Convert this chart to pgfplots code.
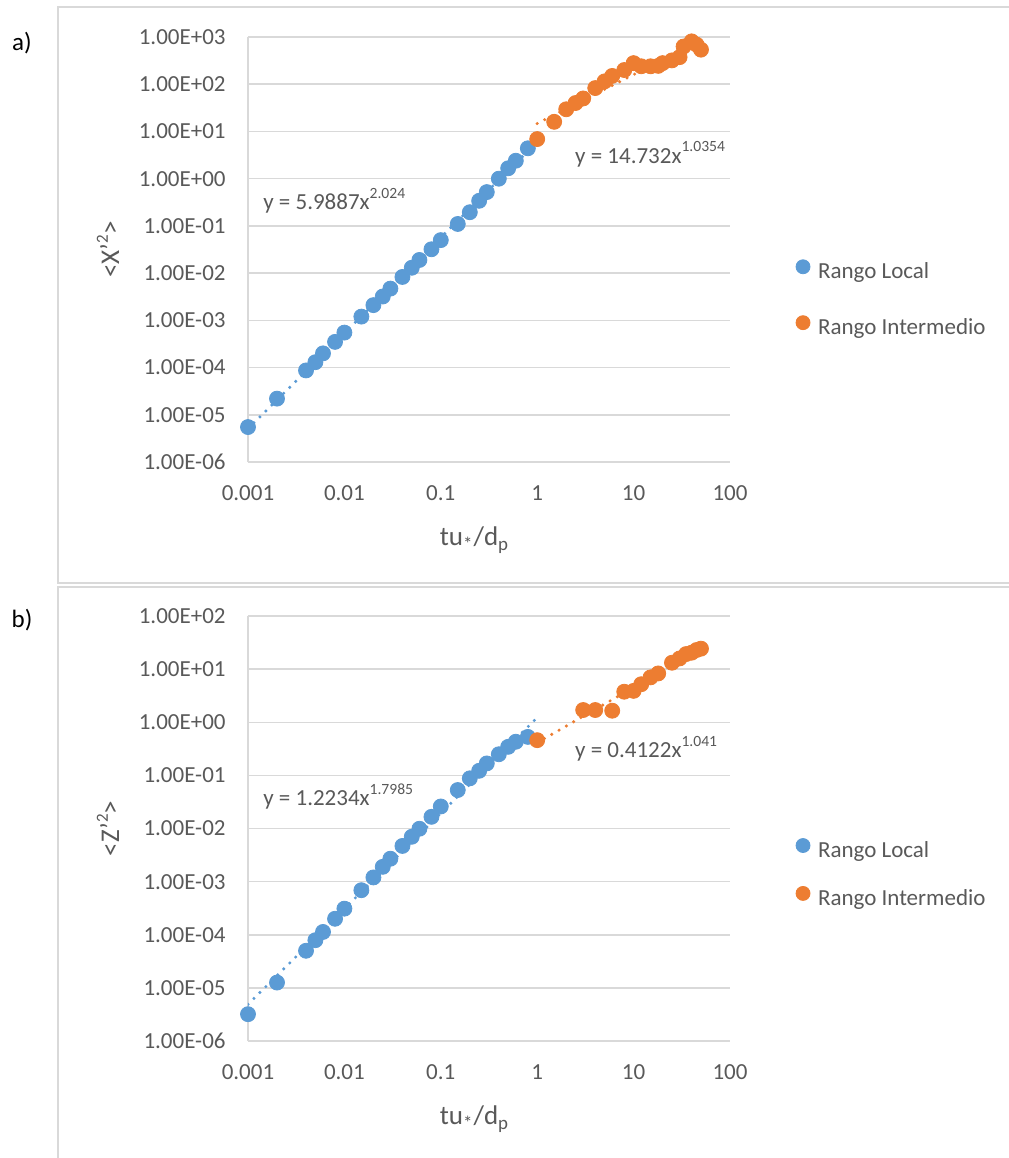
\documentclass[border=0pt]{standalone}
\usepackage{fontspec}
\setmainfont{Carlito}
\usepackage{pgfplots}
\pgfplotsset{compat=1.18}
\definecolor{cblue}{HTML}{5B9BD5}
\definecolor{corange}{HTML}{ED7D31}
\definecolor{gridc}{HTML}{D9D9D9}
\definecolor{txt}{HTML}{595959}
\newcommand{\expo}[1]{\raisebox{0.48em}{\fontsize{7.8}{9}\selectfont #1}}
\newcommand{\expoL}[1]{\raisebox{0.42em}{\fontsize{8.5}{9}\selectfont #1}}

\pgfplotstableread{
x y
0.001 5.5e-6
0.002 2.2e-5
0.004 8.7e-5
0.005 1.3e-4
0.006 2.0e-4
0.008 3.5e-4
0.01 5.5e-4
0.015 1.2e-3
0.02 2.1e-3
0.025 3.2e-3
0.03 4.7e-3
0.04 8.3e-3
0.05 1.3e-2
0.06 1.9e-2
0.08 3.2e-2
0.1 5.0e-2
0.15 0.11
0.2 0.195
0.25 0.34
0.3 0.52
0.4 1.0
0.5 1.66
0.6 2.4
0.8 4.4
}\blueA
\pgfplotstableread{
x y
1 6.9
1.5 16
2 29.5
2.5 40
3 50
4 83
5 115
6 150
8 200
10 280
12 240
15 240
18 245
20 280
25 320
30 375
33 630
40 810
45 690
50 540
}\orangeA
\pgfplotstableread{
x y
0.001 3.2e-6
0.002 1.26e-5
0.004 5.0e-5
0.005 7.9e-5
0.006 1.13e-4
0.008 2.0e-4
0.01 3.1e-4
0.015 6.9e-4
0.02 1.2e-3
0.025 1.9e-3
0.03 2.7e-3
0.04 4.7e-3
0.05 7.0e-3
0.06 9.9e-3
0.08 1.66e-2
0.1 2.6e-2
0.15 5.3e-2
0.2 8.8e-2
0.25 0.122
0.3 0.168
0.4 0.25
0.5 0.345
0.6 0.43
0.8 0.53
}\blueB
\pgfplotstableread{
x y
1 0.46
3 1.7
4 1.7
6 1.65
8 3.76
10 3.9
12 5.2
15 7.0
18 8.3
25 13.2
30 15.9
35 19.2
40 20.4
45 22.9
50 24.3
}\orangeB

\pgfplotsset{
  excel/.style={
    scale only axis, width=241pt, height=212.5pt,
    xmin=0.001, xmax=100,
    axis x line=bottom, axis y line=left,
    axis line style={draw=gridc, line width=0.75pt, -},
    ymajorgrids, major grid style={draw=gridc, line width=0.75pt},
    major tick length=0pt, minor tick length=0pt,
    xtick={0.001,0.01,0.1,1,10,100},
    xticklabels={0.001,0.01,0.1,1,10,100},
    tick label style={font=\fontsize{11.5}{13}\selectfont, text=txt},
    xticklabel style={anchor=center, yshift=-15.5pt},
    yticklabel style={anchor=east, inner sep=0pt, xshift=-11pt},
    x label style={at={(rel axis cs:0.47,0)}, anchor=center, yshift=-39pt, font=\fontsize{13.5}{15}\selectfont, text=txt},
    y label style={at={(rel axis cs:-0.2905,0.5)}, anchor=center, font=\fontsize{13.5}{15}\selectfont, text=txt},
    legend cell align=left,
    legend style={draw=none, fill=none, inner sep=0pt, outer sep=0pt, anchor=west,
      font=\fontsize{11.5}{13}\selectfont, text=txt, column sep=4pt,
      nodes={inner sep=0pt, text height=8pt, text depth=2.5pt}},
    xlabel={tu\textsubscript{*}/d\textsubscript{p}},
  },
}
\tikzset{
  dat/.style={only marks, mark=*, mark size=3.75pt, mark options={draw=#1, fill=#1}},
  trend/.style={draw=#1, line width=1.7pt, line cap=round, dash pattern=on 0pt off 4.2pt},
  eq/.style={anchor=base west, inner sep=0pt, font=\fontsize{11.5}{13}\selectfont, text=txt},
}

\begin{document}
\begin{tikzpicture}
\useasboundingbox (0pt,0pt) rectangle (504pt,-579pt);
\fill[white] (0pt,0pt) rectangle (504pt,-579pt);
\draw[gridc, line width=0.75pt] (29pt,-3.5pt) rectangle (506pt,-291.5pt);
\draw[gridc, line width=0.75pt] (29pt,-293.5pt) rectangle (506pt,-582pt);
\node[font=\fontsize{12.5}{14}\selectfont] at (11pt,-21.5pt) {a)};
\node[font=\fontsize{12.5}{14}\selectfont] at (11pt,-310pt) {b)};

\begin{loglogaxis}[excel, at={(124pt,-231pt)}, anchor=south west,
  ymin=1e-6, ymax=1e3,
  ytick={1e-6,1e-5,1e-4,1e-3,1e-2,1e-1,1,1e1,1e2,1e3},
  yticklabels={1.00E-06,1.00E-05,1.00E-04,1.00E-03,1.00E-02,1.00E-01,1.00E+00,1.00E+01,1.00E+02,1.00E+03},
  ylabel={<X’\expoL{2}>},
  legend image code/.code={\draw[#1, mark size=3.5pt] plot coordinates {(3.5pt,3.2pt)};},
  legend style={at={(1.137,0.382)}, row sep=16pt}]
\addplot[dat=cblue] table {\blueA};
\addlegendentry{Rango Local}
\addplot[dat=corange] table {\orangeA};
\addlegendentry{Rango Intermedio}
\addplot[trend=cblue, forget plot] coordinates {(0.001,5.07e-6) (1,5.9887)};
\addplot[trend=corange, forget plot] coordinates {(1,14.732) (45,759)};
\node[eq] at (rel axis cs:0.031,0.593) {y = 5.9887x\expo{2.024}};
\node[eq] at (rel axis cs:0.678,0.7035) {y = 14.732x\expo{1.0354}};
\end{loglogaxis}

\begin{loglogaxis}[excel, at={(124pt,-520.5pt)}, anchor=south west,
  ymin=1e-6, ymax=1e2,
  ytick={1e-6,1e-5,1e-4,1e-3,1e-2,1e-1,1,1e1,1e2},
  yticklabels={1.00E-06,1.00E-05,1.00E-04,1.00E-03,1.00E-02,1.00E-01,1.00E+00,1.00E+01,1.00E+02},
  ylabel={<Z’\expoL{2}>},
  legend image code/.code={\draw[#1, mark size=3.5pt] plot coordinates {(3.5pt,3.2pt)};},
  legend style={at={(1.137,0.392)}, row sep=12pt}]
\addplot[dat=cblue] table {\blueB};
\addlegendentry{Rango Local}
\addplot[dat=corange] table {\orangeB};
\addlegendentry{Rango Intermedio}
\addplot[trend=cblue, forget plot] coordinates {(0.001,4.9e-6) (1,1.2234)};
\addplot[trend=corange, forget plot] coordinates {(1,0.4122) (50,24.2)};
\node[eq] at (rel axis cs:0.031,0.555) {y = 1.2234x\expo{1.7985}};
\node[eq] at (rel axis cs:0.678,0.668) {y = 0.4122x\expo{1.041}};
\end{loglogaxis}
\end{tikzpicture}
\end{document}
